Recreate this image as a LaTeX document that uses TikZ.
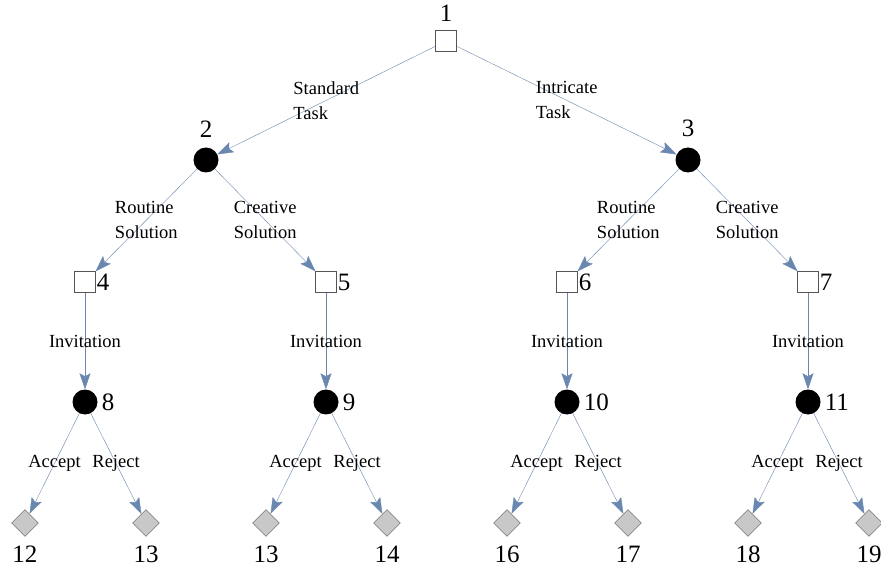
\documentclass[tikz,border=0pt]{standalone}
\usepackage{fontspec}
\setmainfont{Liberation Serif}
\usetikzlibrary{arrows.meta}
\usetikzlibrary{shapes.geometric}
\definecolor{EdgeBlue}{HTML}{6A87B0}
\definecolor{BoxGray}{HTML}{555555}
\definecolor{LeafGray}{HTML}{C8C8C8}

\begin{document}
\begin{tikzpicture}[x=1pt, y=-1pt,
  decision/.style={rectangle, draw=BoxGray, fill=white, minimum size=21pt, inner sep=0pt},
  chance/.style={circle, fill=black, minimum size=25pt, inner sep=0pt},
  leaf/.style={diamond, draw=BoxGray, fill=LeafGray, minimum size=27pt, inner sep=0pt},
  num/.style={font=\fontsize{25}{28}\selectfont, inner sep=1pt},
  branch/.style={EdgeBlue, -{Stealth[length=16pt,width=11pt,inset=3pt]}},
  lbl/.style={midway, text=black, font=\fontsize{18.5}{25}\selectfont, align=left}]

  \useasboundingbox (0,0) rectangle (881,569);

  % decision and chance nodes
  \node[decision, label={[num, label distance=8pt]above:1}] (n1) at (446,41) {};
  \node[chance, label={[num, label distance=9pt]above:2}] (n2) at (206,160) {};
  \node[chance, label={[num, label distance=9pt]above:3}] (n3) at (688,160) {};

  \node[decision, label={[num, label distance=0pt]right:4}] (n4) at (85,282) {};
  \node[decision, label={[num, label distance=0pt]right:5}] (n5) at (326,282) {};
  \node[decision, label={[num, label distance=0pt]right:6}] (n6) at (567,282) {};
  \node[decision, label={[num, label distance=0pt]right:7}] (n7) at (808,282) {};

  \node[chance, label={[num, label distance=3pt]right:8}] (n8) at (85,402) {};
  \node[chance, label={[num, label distance=3pt]right:9}] (n9) at (326,402) {};
  \node[chance, label={[num, label distance=3pt]right:10}] (n10) at (567,402) {};
  \node[chance, label={[num, label distance=3pt]right:11}] (n11) at (808,402) {};

  % outcomes
  \foreach \name/\x/\txt in {l1/25/12, l2/146/13, l3/266/13, l4/387/14,
                             l5/507/16, l6/628/17, l7/748/18, l8/869/19}{%
    \node[leaf, label={[num, label distance=8pt]below:\txt}] (\name) at (\x,523) {};
  }

  \draw[branch] (n1) -- node[lbl]{Standard\\Task} (n2);
  \draw[branch] (n1) -- node[lbl]{Intricate\\Task} (n3);

  \draw[branch] (n2) -- node[lbl]{Routine\\Solution} (n4);
  \draw[branch] (n2) -- node[lbl]{Creative\\Solution} (n5);
  \draw[branch] (n3) -- node[lbl]{Routine\\Solution} (n6);
  \draw[branch] (n3) -- node[lbl]{Creative\\Solution} (n7);

  \foreach \a/\b in {n4/n8, n5/n9, n6/n10, n7/n11}{%
    \draw[branch] (\a) -- node[lbl]{Invitation} (\b);
  }

  \foreach \a/\b/\c in {n8/l1/l2, n9/l3/l4, n10/l5/l6, n11/l7/l8}{%
    \draw[branch] (\a) -- node[lbl]{Accept} (\b);
    \draw[branch] (\a) -- node[lbl]{Reject} (\c);
  }
\end{tikzpicture}
\end{document}
